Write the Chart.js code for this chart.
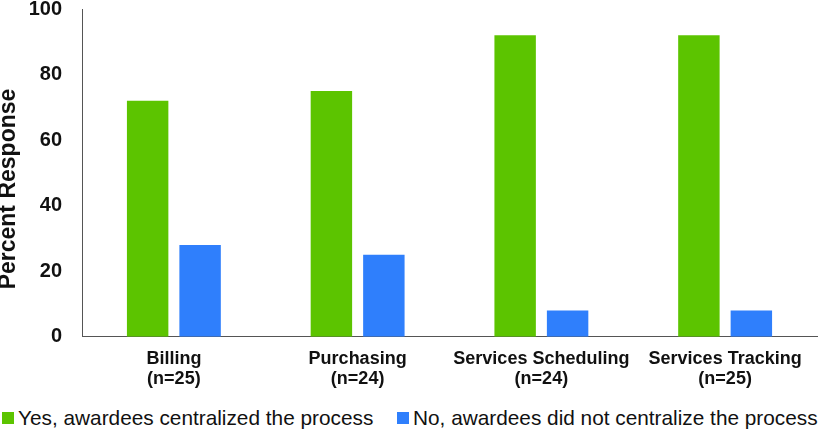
<!DOCTYPE html>
<html>
<head>
<meta charset="utf-8">
<script src="https://cdn.jsdelivr.net/npm/chart.js@4"></script>
<style>
  html, body { margin: 0; padding: 0; background: #fff; }
  #wrap { position: relative; width: 820px; height: 430px; }
  #chartBox { position: absolute; left: 0; top: 0; width: 820px; height: 401px; }
  #legend { position: absolute; left: 0; top: 405px; width: 820px; height: 25px;
    font-family: "Liberation Sans", Arial, sans-serif; font-size: 20.8px; color: #111; }
  .item { position: absolute; top: 0; white-space: nowrap; line-height: 25px; }
  .sw { display: inline-block; width: 12px; height: 12px; margin-right: 4px; vertical-align: 1px; }
</style>
</head>
<body>
<div id="wrap">
  <div id="chartBox"><canvas id="chart"></canvas></div>
  <div id="legend"></div>
</div>
<script>
// categories and series
const categories = [['Billing', '(n=25)'], ['Purchasing', '(n=24)'], ['Services Scheduling', '(n=24)'], ['Services Tracking', '(n=25)']];
const yesValues = [72, 75, 92, 92];
const noValues = [28, 25, 8, 8];
const yTicks = [0, 20, 40, 60, 80, 100];
const seriesLabels = ['Yes, awardees centralized the process', 'No, awardees did not centralize the process'];
const seriesColors = ['#5cc400', '#2f7ffc'];
const yTitle = 'Percent Response';

const FONT = '"Liberation Sans", Arial, sans-serif';

// y axis title sits a bit below the axis middle in the reference, so draw it here
const yTitlePlugin = {
  id: 'yTitle',
  afterDraw(chart) {
    const ctx = chart.ctx;
    ctx.save();
    ctx.translate(9, 189);
    ctx.rotate(-Math.PI / 2);
    ctx.font = 'bold 23px ' + FONT;
    ctx.fillStyle = '#111';
    ctx.textAlign = 'center';
    ctx.textBaseline = 'middle';
    ctx.fillText(yTitle, 0, 0);
    ctx.restore();
  }
};

const chart = new Chart(document.getElementById('chart').getContext('2d'), {
  type: 'bar',
  data: {
    labels: categories,
    datasets: [
      { label: seriesLabels[0], data: yesValues, backgroundColor: seriesColors[0],
        categoryPercentage: 0.571, barPercentage: 0.79 },
      { label: seriesLabels[1], data: noValues, backgroundColor: seriesColors[1],
        categoryPercentage: 0.571, barPercentage: 0.79 }
    ]
  },
  plugins: [yTitlePlugin],
  options: {
    responsive: true,
    maintainAspectRatio: false,
    animation: false,
    layout: { padding: { top: 0, right: 3, left: 0, bottom: 0 } },
    plugins: {
      tooltip: { enabled: false },
      legend: { display: false }
    },
    scales: {
      x: {
        grid: { display: false, drawTicks: false },
        border: { display: true, color: '#555', width: 1 },
        ticks: { font: { family: FONT, size: 18, weight: 'bold', lineHeight: 1.12 }, color: '#111', maxRotation: 0, padding: 12 }
      },
      y: {
        min: 0,
        max: 100,
        afterBuildTicks: axis => { axis.ticks = yTicks.map(v => ({ value: v })); },
        // pin axis width and top gap to the reference layout
        afterFit: axis => { axis.width = 82; axis.paddingTop = 9; },
        grid: { display: false, drawTicks: false },
        border: { display: true, color: '#555', width: 1 },
        ticks: { font: { family: FONT, size: 20, weight: 'bold' }, color: '#111', padding: 20 },
        title: { display: false }
      }
    }
  }
});

// legend built from the same dataset labels/colours
const legend = document.getElementById('legend');
const legendLeft = [2, 397];
chart.data.datasets.forEach((ds, i) => {
  const el = document.createElement('span');
  el.className = 'item';
  el.style.left = legendLeft[i] + 'px';
  el.innerHTML = `<span class="sw" style="background:${ds.backgroundColor}"></span>${ds.label}`;
  legend.appendChild(el);
});
</script>
</body>
</html>
